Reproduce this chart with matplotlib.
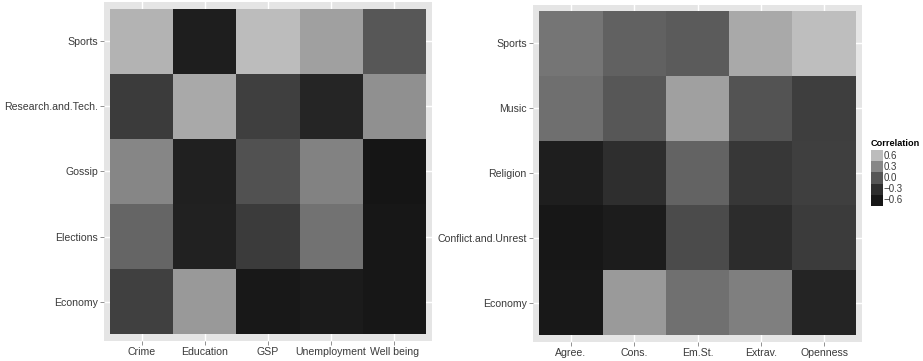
import numpy as np
import matplotlib
matplotlib.use('Agg')
import matplotlib.pyplot as plt
from matplotlib.colors import LinearSegmentedColormap, Normalize
import matplotlib.patches as mpatches

plt.rcParams['font.family'] = ['Liberation Sans', 'DejaVu Sans']

# left panel: topics vs state indicators (rows bottom -> top)
left_rows = ["Economy", "Elections", "Gossip", "Research.and.Tech.", "Sports"]
left_cols = ["Crime", "Education", "GSP", "Unemployment", "Well being"]
left_vals = [
    [-0.16, 0.40, -0.59, -0.55, -0.60],
    [0.09, -0.46, -0.20, 0.17, -0.60],
    [0.29, -0.48, -0.04, 0.27, -0.63],
    [-0.20, 0.49, -0.17, -0.42, 0.35],
    [0.55, -0.50, 0.60, 0.44, 0.01],
]

# right panel: topics vs personality traits
right_rows = ["Economy", "Conflict.and.Unrest", "Religion", "Music", "Sports"]
right_cols = ["Agree.", "Cons.", "Em.St.", "Extrav.", "Openness"]
right_vals = [
    [-0.59, 0.41, 0.16, 0.25, -0.43],
    [-0.60, -0.53, -0.08, -0.33, -0.20],
    [-0.51, -0.30, 0.08, -0.23, -0.17],
    [0.15, 0.01, 0.44, -0.02, -0.18],
    [0.19, 0.07, 0.03, 0.49, 0.61],
]

legend_breaks = [0.6, 0.3, 0.0, -0.3, -0.6]
legend_labels = ["0.6", "0.3", "0.0", "\u22120.3", "\u22120.6"]

# grey gradient, roughly what ggplot produced
anchors = [(-0.7, '#101010'), (-0.6, '#171717'), (-0.3, '#2e2e2e'),
           (0.0, '#565656'), (0.3, '#878787'), (0.6, '#bcbcbc'), (0.7, '#cecece')]
vmin, vmax = -0.7, 0.7
cmap = LinearSegmentedColormap.from_list(
    'corr', [((v - vmin) / (vmax - vmin), c) for v, c in anchors])
norm = Normalize(vmin=vmin, vmax=vmax)

PANEL_BG = '#e5e5e5'
TEXT_COL = '#3a3a3a'

fig = plt.figure(figsize=(9.23, 3.61), dpi=100)
ax1 = fig.add_axes([104 / 923, 20 / 361, 328 / 923, 339 / 361])
ax2 = fig.add_axes([533 / 923, 19.5 / 361, 329 / 923, 337 / 361])


def draw_heat(ax, rows, cols, vals):
    data = np.array(vals)
    ax.set_facecolor(PANEL_BG)
    xe = np.arange(len(cols) + 1) - 0.5
    ye = np.arange(len(rows) + 1) - 0.5
    ax.pcolormesh(xe, ye, data, cmap=cmap, norm=norm, zorder=2)
    ax.set_xlim(-0.6, len(cols) - 0.4)
    ax.set_ylim(-0.6, len(rows) - 0.4)
    ax.set_xticks(range(len(cols)))
    ax.set_xticklabels(cols)
    ax.set_yticks(range(len(rows)))
    ax.set_yticklabels(rows)
    ax.grid(True, color='white', linewidth=1.0, zorder=1)
    ax.set_axisbelow(True)
    for s in ax.spines.values():
        s.set_visible(False)
    ax.tick_params(length=3, width=0.6, color='#7f7f7f', labelsize=7.6,
                   labelcolor=TEXT_COL, pad=1.5)


draw_heat(ax1, left_rows, left_cols, left_vals)
draw_heat(ax2, right_rows, right_cols, right_vals)

# legend
fig.text(871 / 923, 1 - 144 / 361, "Correlation", fontsize=6.6, fontweight='bold',
         color='black', ha='left', va='center')
key_h = 11.2
for i, (b, lab) in enumerate(zip(legend_breaks, legend_labels)):
    y0 = 150 + i * key_h
    fig.patches.append(mpatches.Rectangle(
        (871 / 923, 1 - (y0 + key_h) / 361), 12 / 923, key_h / 361,
        transform=fig.transFigure, facecolor=cmap(norm(b)), edgecolor='none'))
    fig.text(884 / 923, 1 - (y0 + key_h / 2) / 361, lab, fontsize=7,
             color=TEXT_COL, ha='left', va='center')

fig.savefig('out.png', dpi=100, facecolor='white')
